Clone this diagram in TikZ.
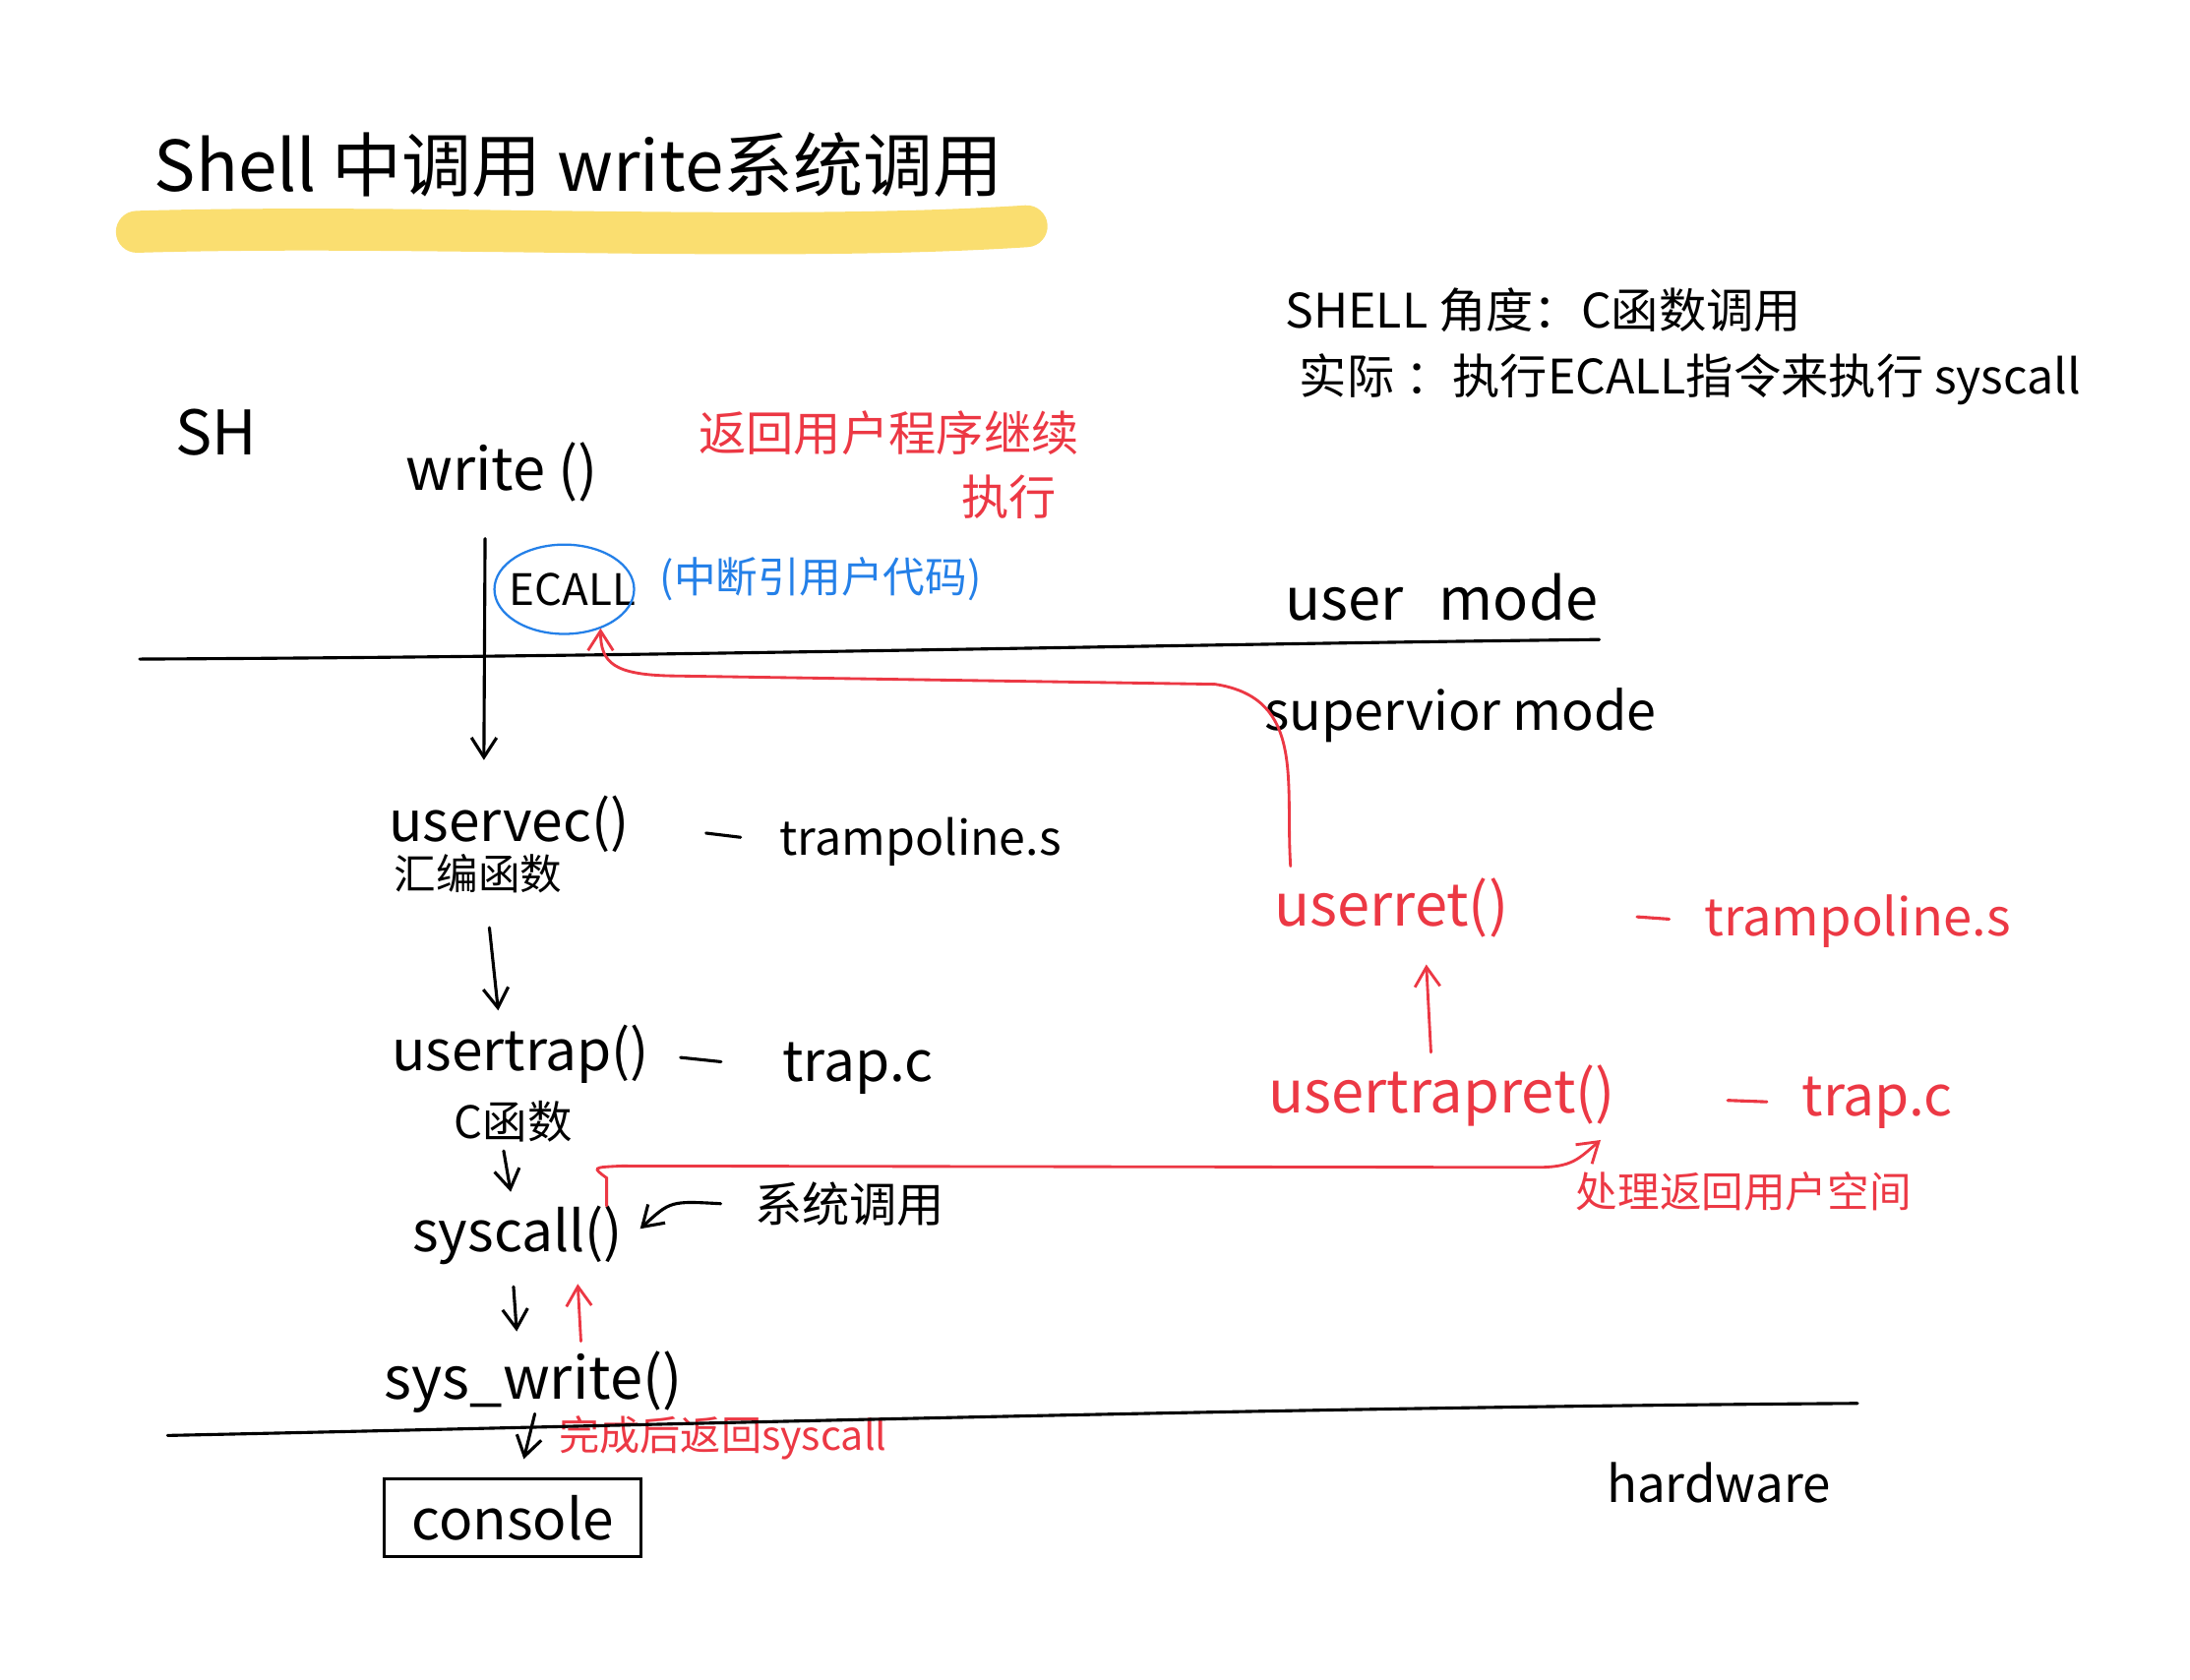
\documentclass[tikz,border=0pt]{standalone}
\usepackage{fontspec}
\usetikzlibrary{arrows.meta}
\newfontfamily\cjk{Noto Sans CJK SC}
\definecolor{redink}{RGB}{236,56,68}
\definecolor{blueink}{RGB}{36,128,232}
\definecolor{hilite}{RGB}{250,222,112}
\tikzset{
  txt/.style={font=\cjk\fontsize{#1}{#1}\selectfont, inner sep=0pt, anchor=west},
  txt/.default=18,
  ink/.style={line width=1.1pt, line cap=round},
  arr/.style={ink, -{Straight Barb[length=7pt,width=9pt]}},
  redarr/.style={arr, redink, line width=1pt}
}
\begin{document}
\begin{tikzpicture}[x=0.5pt,y=-0.5pt]
\fill[white] (0,0) rectangle (1568,1203);
\useasboundingbox (0,0) rectangle (1568,1203);

% title with marker
\draw[hilite, line width=15pt, line cap=round] (98,166) .. controls (300,160) and (550,174) .. (735,162);
\node[txt=25] (title) at (110,118) {Shell 中调用 write系统调用};

\node[txt=17] (shellview) at (920,222) {SHELL 角度：C函数调用};
\node[txt=17] (actual) at (930,272) {实际 ：执行ECALL指令来执行 syscall};

\node[txt=22] (sh) at (125,310) {SH};
\node[txt=21] (write) at (290,338) {write ()};
\node[txt=17, text=redink] (back) at (500,310) {返回用户程序继续};
\node[txt=17, text=redink] (backrun) at (688,356) {执行};

\node[txt=15.5, anchor=center] (ecall) at (410,422) {ECALL};
\draw[blueink, line width=0.8pt] ([xshift=-3pt]ecall.center) ellipse [x radius=25pt, y radius=16pt];
\node[txt=15, text=blueink] (ecallnote) at (472,415) {(中断引用户代码)};

% user / supervisor boundary
\node[txt=21] (usermode) at (920,428) {user\hspace{0.6em}mode};
\node[txt=19] (supmode) at (905,512) {supervior mode};
\draw[ink] (100,472) .. controls (500,470) and (800,462) .. (1145,458);

% kernel side, user trap path
\node[txt=20] (uservec) at (278,590) {uservec()};
\node[txt=15] (asmfn) at (282,626) {汇编函数};
\node[txt=17] (tramp1) at (558,603) {trampoline.s};
\node[txt=20] (usertrap) at (280,755) {usertrap()};
\node[txt=20] (trap1) at (560,765) {trap.c};
\node[txt=16] (cfn) at (325,803) {C函数};
\node[txt=20] (syscall) at (295,885) {syscall()};
\node[txt=17] (sysnote) at (540,862) {系统调用};
\node[txt=21] (syswrite) at (275,990) {sys\_write()};
\node[txt=14.5, text=redink] (donenote) at (400,1030) {完成后返回syscall};

% return path
\node[txt=21, text=redink] (userret) at (912,650) {userret()};
\node[txt=18.5, text=redink] (tramp2) at (1220,660) {trampoline.s};
\node[txt=21, text=redink] (usertrapret) at (908,785) {usertrapret()};
\node[txt=20, text=redink] (trap2) at (1290,790) {trap.c};
\node[txt=15, text=redink] (retnote) at (1128,853) {处理返回用户空间};

% hardware
\draw[ink] (120,1028) .. controls (500,1020) and (900,1008) .. (1330,1005);
\node[txt=20, draw, line width=1.1pt, minimum width=92pt, minimum height=28pt, anchor=center] (console) at (367,1087) {console};
\node[txt=18] (hardware) at (1150,1062) {hardware};

% calls down
\draw[arr] ([xshift=-6pt,yshift=-13pt]write.south) -- ([xshift=-9pt,yshift=12.5pt]uservec.north);
\draw[arr] ([xshift=4pt,yshift=-12pt]asmfn.south) -- ([xshift=-8pt,yshift=5pt]usertrap.north);
\draw[arr] ([xshift=-3.5pt,yshift=-3pt]cfn.south) -- ([xshift=-2.5pt,yshift=5pt]syscall.north);
\draw[arr] ([xshift=-1.5pt,yshift=-7.5pt]syscall.south) -- ([xshift=-6pt,yshift=7pt]syswrite.north);
\draw[arr] ([xshift=0.5pt]syswrite.south) -- ([xshift=4pt,yshift=6.5pt]console.north);
\draw[arr] ([xshift=-12pt]sysnote.west) .. controls (480,860) .. ([xshift=6pt,yshift=2.5pt]syscall.east);

% file dashes
\draw[ink, shorten <=27.5pt, shorten >=14pt] (uservec.east) -- (tramp1.west);
\draw[ink, shorten <=11pt, shorten >=22pt] (usertrap.east) -- (trap1.west);
\draw[ink, redink, shorten <=46pt, shorten >=12.5pt] (userret.east) -- (tramp2.west);
\draw[ink, redink, shorten <=40pt, shorten >=12.5pt] (usertrapret.east) -- (trap2.west);

% returns
\draw[redarr] ([xshift=17pt,yshift=3.5pt]syswrite.north) -- ([xshift=21.5pt,yshift=-6.5pt]syscall.south);
\draw[redarr] ([xshift=-6pt]syscall.north east) -- ++(0,-20) .. controls (424,836) .. (445,835) -- (1100,836) .. controls (1126,836) and (1130,830) .. ([xshift=-5.5pt,yshift=-4.5pt]usertrapret.south east);
\draw[redarr] ([xshift=-4pt,yshift=4.5pt]usertrapret.north) -- ([xshift=12.5pt,yshift=-9.5pt]userret.south);
\draw[redarr] ([xshift=6pt,yshift=4pt]userret.north west) .. controls (920,560) and (935,500) .. (870,490) -- (480,484) .. controls (440,483) and (430,475) .. ([xshift=10pt,yshift=-14pt]ecall.center);
\end{tikzpicture}
\end{document}
